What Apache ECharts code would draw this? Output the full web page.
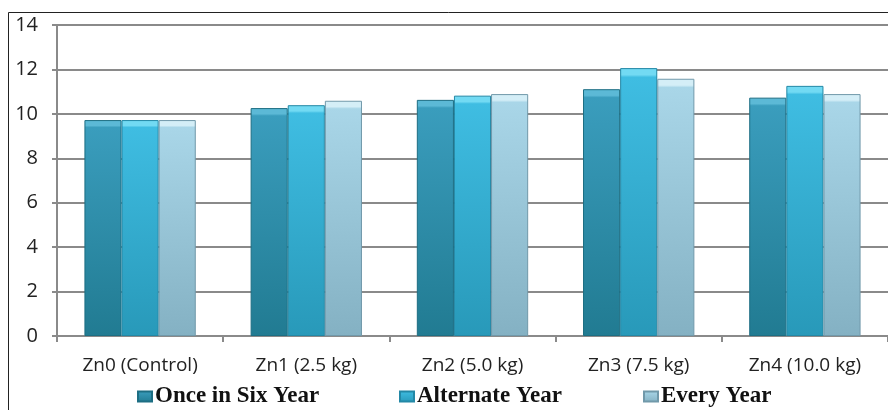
<!DOCTYPE html>
<html>
<head>
<meta charset="utf-8">
<script src="https://cdn.jsdelivr.net/npm/echarts@6/dist/echarts.min.js"></script>
<style>
  html, body { margin: 0; padding: 0; background: #fff; }
  #chart { width: 888px; height: 410px; }
</style>
</head>
<body>
<div id="chart"></div>
<script>
const categories = ['Zn0 (Control)', 'Zn1 (2.5 kg)', 'Zn2 (5.0 kg)', 'Zn3 (7.5 kg)', 'Zn4 (10.0 kg)']
const seriesNames = ['Once in Six Year', 'Alternate Year', 'Every Year']
const onceInSix = [9.72, 10.26, 10.63, 11.11, 10.73]
const alternate = [9.72, 10.39, 10.82, 12.06, 11.26]
const everyYear = [9.72, 10.59, 10.89, 11.58, 10.89]
const yTicks = [0, 14, 2]

// [bevel, top, bottom, border]
const palette = [
  ['#5cb9d6', '#3a9dbd', '#217b92', '#1d6e83'],
  ['#72daf3', '#3fbde2', '#2899b9', '#2388a6'],
  ['#d4eef7', '#a9d6e8', '#84b1c3', '#7199aa']
]
const legendLeft = [137, 399, 643]

function barFill(c) {
  return new echarts.graphic.LinearGradient(0, 0, 0, 1, [
    { offset: 0, color: c[0] },
    { offset: 0.025, color: c[0] },
    { offset: 0.034, color: c[1] },
    { offset: 1, color: c[2] }
  ])
}

function makeSeries(name, data, c) {
  return {
    name: name,
    type: 'bar',
    data: data,
    barGap: '0%',
    barCategoryGap: '33%',
    itemStyle: {
      color: barFill(c),
      borderColor: c[3],
      borderWidth: 1
    }
  }
}

function makeLegend(name, i) {
  return {
    top: 385,
    left: legendLeft[i],
    padding: 0,
    itemWidth: 14,
    itemHeight: 10,
    icon: 'rect',
    textStyle: {
      fontFamily: 'Liberation Serif',
      fontWeight: 'bold',
      fontSize: 23,
      color: '#111',
      padding: [0, 0, 0, -2]
    },
    data: [name]
  }
}

const chart = echarts.init(document.getElementById('chart'))
chart.setOption({
  animation: false,
  graphic: [{
    type: 'rect',
    shape: { x: 8.5, y: 12.5, width: 1000, height: 600 },
    style: { fill: 'none', stroke: '#222', lineWidth: 1 },
    z: 100
  }],
  grid: {
    left: 57,
    top: 25,
    width: 847,
    height: 311
  },
  legend: seriesNames.map(makeLegend),
  xAxis: {
    type: 'category',
    data: categories,
    axisLine: { lineStyle: { color: '#8a8a8a', width: 2 } },
    axisTick: { show: true, length: 6, lineStyle: { color: '#8a8a8a', width: 2 } },
    axisLabel: {
      margin: 20,
      fontFamily: 'Open Sans',
      fontSize: 19,
      color: '#222'
    }
  },
  yAxis: {
    type: 'value',
    min: yTicks[0],
    max: yTicks[1],
    interval: yTicks[2],
    axisLine: { show: true, lineStyle: { color: '#8a8a8a', width: 2 } },
    axisTick: { show: true, length: 5, lineStyle: { color: '#8a8a8a', width: 2 } },
    splitLine: { lineStyle: { color: '#8a8a8a', width: 2 } },
    axisLabel: {
      margin: 19,
      fontFamily: 'Open Sans',
      fontSize: 20,
      color: '#222'
    }
  },
  series: [
    makeSeries(seriesNames[0], onceInSix, palette[0]),
    makeSeries(seriesNames[1], alternate, palette[1]),
    makeSeries(seriesNames[2], everyYear, palette[2])
  ]
})
</script>
</body>
</html>
